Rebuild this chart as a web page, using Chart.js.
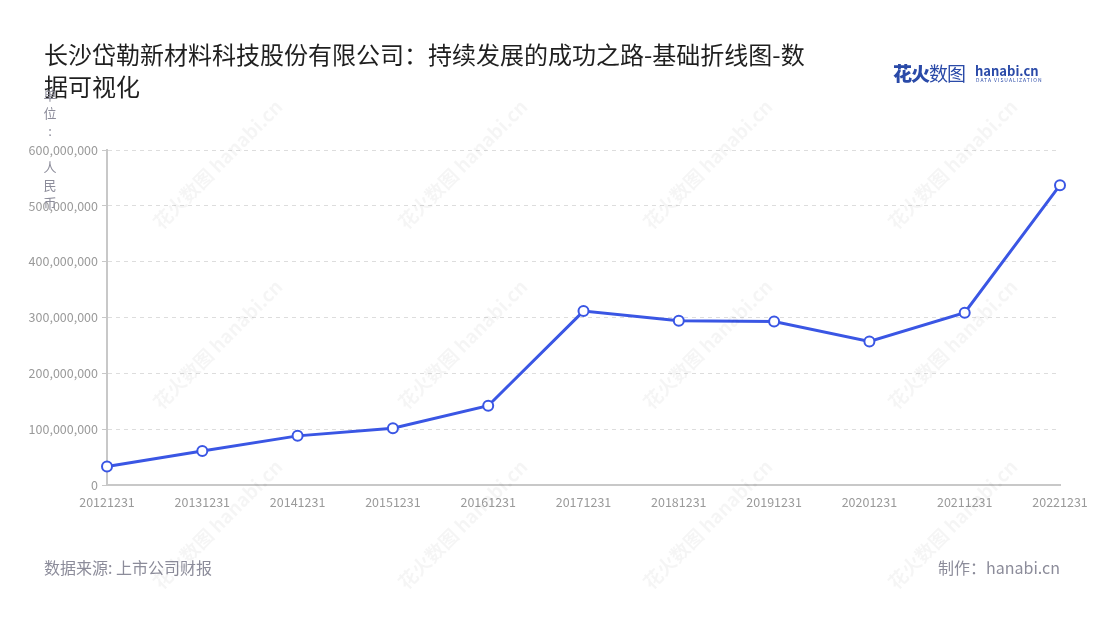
<!DOCTYPE html>
<html>
<head>
<meta charset="utf-8">
<script src="https://cdn.jsdelivr.net/npm/chart.js@4"></script>
<style>
  body { margin: 0; background: #fff; font-family: "Noto Sans CJK SC", "Noto Sans", sans-serif; }
  #wrap { position: relative; width: 1100px; height: 620px; overflow: hidden; }
  #title { position: absolute; left: 44px; top: 38px; font-size: 24px; line-height: 32px; color: #1f1f1f; white-space: nowrap; }
  #unit { position: absolute; left: 43px; top: 86px; font-size: 13px; line-height: 18px; color: #8c8c9a; width: 14px; text-align: center; }
  #source { position: absolute; left: 44px; top: 555px; font-size: 16px; color: #8c8c9a; }
  #maker { position: absolute; right: 40px; top: 555px; font-size: 16px; color: #8c8c9a; }
  #logo { position: absolute; left: 893px; top: 59px; }
  #logo .cn { font-size: 19px; color: #2a4aa8; letter-spacing: -1px; }
  #logo .cn b { font-weight: 900; }
  #logo .en { position: absolute; left: 82px; top: 2px; font-size: 13px; font-weight: bold; color: #2a4aa8; white-space: nowrap; }
  #logo .sub { position: absolute; left: 83px; top: 17px; font-size: 5px; color: #2a4aa8; letter-spacing: 1px; white-space: nowrap; }
  .wm { position: absolute; font-size: 19px; font-weight: bold; color: rgba(0,0,0,0.04); transform: rotate(-45deg); white-space: nowrap; }
  canvas { position: absolute; left: 0; top: 0; }
</style>
</head>
<body>
<div id="wrap">
  <canvas id="myChart" width="1100" height="620"></canvas>
  <div id="title">长沙岱勒新材料科技股份有限公司：持续发展的成功之路-基础折线图-数<br>据可视化</div>
  <div id="unit">单<br>位<br>:<br>&nbsp;<br>人<br>民<br>币</div>
  <div id="logo"><span class="cn"><b>花火</b>数图</span><span class="en">hanabi.cn</span><span class="sub">DATA VISUALIZATION</span></div>
  <div id="source">数据来源: 上市公司财报</div>
  <div id="maker">制作：hanabi.cn</div>
</div>
<script>
// data
const labels = ['20121231', '20131231', '20141231', '20151231', '20161231', '20171231',
  '20181231', '20191231', '20201231', '20211231', '20221231'];
const values = [33000000, 61000000, 88000000, 101500000, 142000000, 311500000,
  294000000, 293000000, 257000000, 308500000, 537000000];
const yTicks = [0, 100000000, 200000000, 300000000, 400000000, 500000000, 600000000];

// watermarks
const wrap = document.getElementById('wrap');
[[130, 150], [375, 150], [620, 150], [865, 150], [130, 330], [375, 330], [620, 330], [865, 330],
 [130, 510], [375, 510], [620, 510], [865, 510]].forEach(function (p) {
  const d = document.createElement('div');
  d.className = 'wm';
  d.style.left = p[0] + 'px';
  d.style.top = p[1] + 'px';
  d.textContent = '花火数图 hanabi.cn';
  wrap.appendChild(d);
});

const ctx = document.getElementById('myChart').getContext('2d');
const tickFont = { family: '"Noto Sans CJK SC", "Noto Sans", sans-serif', size: 12.5 };

const myChart = new Chart(ctx, {
  type: 'line',
  data: {
    labels: labels,
    datasets: [{
      data: values,
      borderColor: '#3a56e4',
      borderWidth: 3,
      pointBackgroundColor: '#ffffff',
      pointBorderColor: '#3a56e4',
      pointBorderWidth: 2,
      pointRadius: 5,
      tension: 0
    }]
  },
  options: {
    responsive: false,
    animation: false,
    layout: { padding: { top: 150, right: 40, bottom: 105, left: 0 } },
    plugins: { legend: { display: false }, tooltip: { enabled: false } },
    scales: {
      x: {
        offset: false,
        grid: { display: false, drawTicks: true },
        border: { color: '#c8c8c8', width: 2 },
        ticks: { color: '#9a9a9a', font: tickFont, maxRotation: 0, autoSkip: false, padding: 2 },
        afterFit: function (scale) { scale.height = 30; }
      },
      y: {
        min: 0,
        max: 600000000,
        afterBuildTicks: function (scale) { scale.ticks = yTicks.map(v => ({ value: v })); },
        grid: { color: '#dddddd', tickLength: 5, tickColor: '#c8c8c8' },
        border: { color: '#c8c8c8', width: 2, dash: [4, 4], dashOffset: 0 },
        ticks: {
          color: '#9a9a9a', font: tickFont, padding: 4,
          callback: function (v) { return v.toLocaleString('en-US'); }
        },
        afterFit: function (scale) { scale.width = 107; }
      }
    }
  }
});
</script>
</body>
</html>
